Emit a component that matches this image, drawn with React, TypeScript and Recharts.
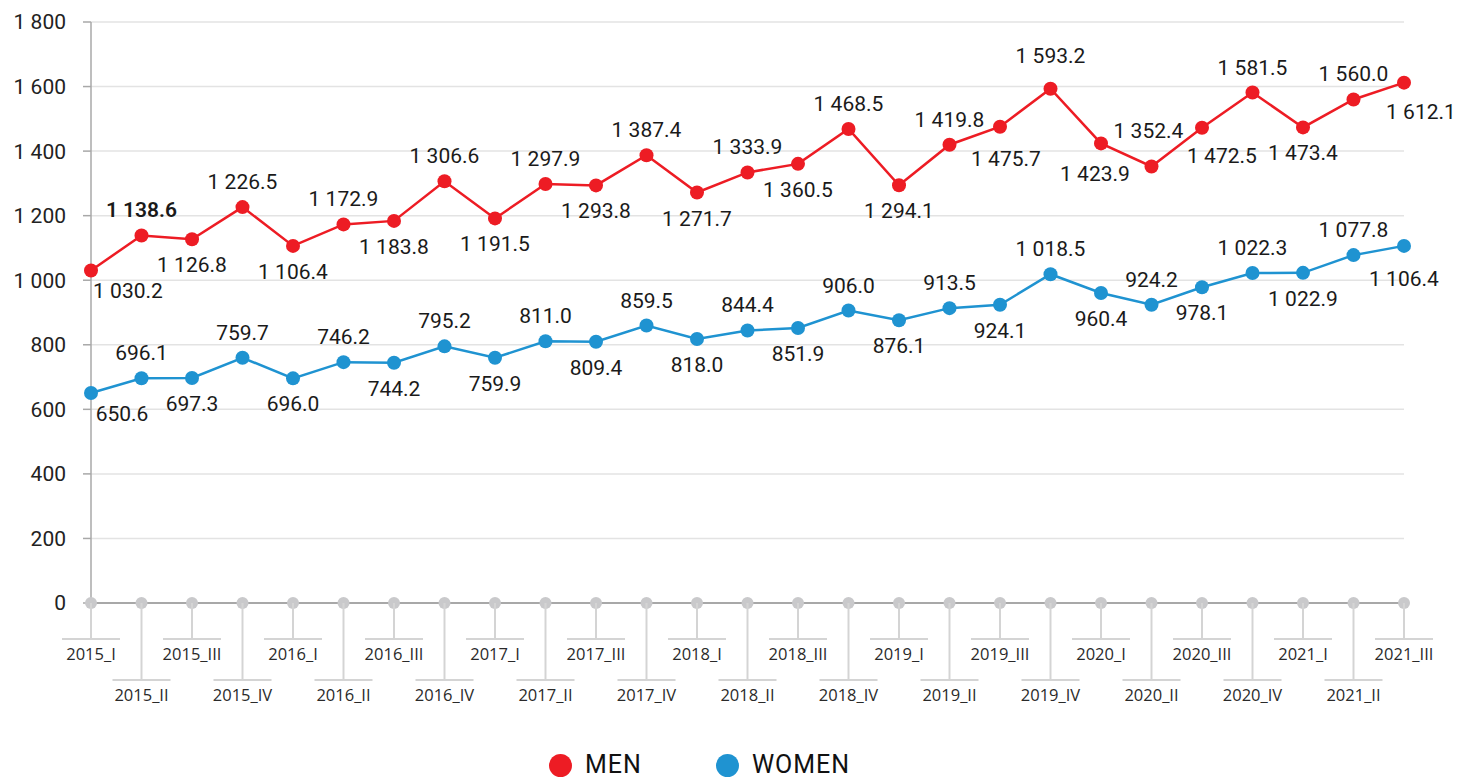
import React from "react";
import {
  LineChart,
  Line,
  XAxis,
  YAxis,
  CartesianGrid,
  Legend,
} from "recharts";

const quarters = [
  "2015_I", "2015_II", "2015_III", "2015_IV",
  "2016_I", "2016_II", "2016_III", "2016_IV",
  "2017_I", "2017_II", "2017_III", "2017_IV",
  "2018_I", "2018_II", "2018_III", "2018_IV",
  "2019_I", "2019_II", "2019_III", "2019_IV",
  "2020_I", "2020_II", "2020_III", "2020_IV",
  "2021_I", "2021_II", "2021_III",
];

const men = [
  1030.2, 1138.6, 1126.8, 1226.5, 1106.4, 1172.9, 1183.8, 1306.6, 1191.5,
  1297.9, 1293.8, 1387.4, 1271.7, 1333.9, 1360.5, 1468.5, 1294.1, 1419.8,
  1475.7, 1593.2, 1423.9, 1352.4, 1472.5, 1581.5, 1473.4, 1560.0, 1612.1,
];

const women = [
  650.6, 696.1, 697.3, 759.7, 696.0, 746.2, 744.2, 795.2, 759.9, 811.0,
  809.4, 859.5, 818.0, 844.4, 851.9, 906.0, 876.1, 913.5, 924.1, 1018.5,
  960.4, 924.2, 978.1, 1022.3, 1022.9, 1077.8, 1106.4,
];

const yTicks = [0, 200, 400, 600, 800, 1000, 1200, 1400, 1600, 1800];

const RED = "#ed1c24";
const BLUE = "#1f93d1";
const LABEL_FONT = "Roboto, 'Noto Sans', sans-serif";

// hand nudges for labels that the original moved (index -> [dx, dy])
const menNudge: Record<number, [number, number]> = {
  0: [37, 28],
  18: [6, 39],
  19: [0, -26],
  20: [-6, 38],
  21: [-3, -28],
  22: [20, 35],
  26: [17, 36],
};
const womenNudge: Record<number, [number, number]> = {
  0: [31, 28],
  26: [0, 40],
};

const data = quarters.map((q, i) => ({ q, men: men[i], women: women[i], zero: 0 }));

function fmt(v: number, digits: number) {
  const [int, dec] = v.toFixed(digits).split(".");
  const spaced = int.replace(/\B(?=(\d{3})+(?!\d))/g, " ");
  return dec ? `${spaced}.${dec}` : spaced;
}

function makeLabel(nudge: Record<number, [number, number]>, boldIdx: number) {
  return (props: any) => {
    const { x, y, index, value } = props;
    if (value == null) return null;
    const above = index % 2 === 1;
    const [dx, dy] = nudge[index] ?? [0, above ? -18 : 33];
    return (
      <text
        key={`l-${index}`}
        x={x + dx}
        y={y + dy}
        textAnchor="middle"
        fontSize={21}
        fontFamily={LABEL_FONT}
        fontWeight={index === boldIdx ? 600 : 400}
        fill="#1a1a1a"
      >
        {fmt(value, 1)}
      </text>
    );
  };
}

const XTick = (props: any) => {
  const { x, y, payload } = props;
  const i = payload.index;
  const long = i % 2 === 1;
  const barY = y + (long ? 77 : 36);
  return (
    <g>
      <line x1={x} y1={y} x2={x} y2={barY} stroke="#d4d4d4" strokeWidth={2} />
      <line x1={x - 29} y1={barY} x2={x + 29} y2={barY} stroke="#d4d4d4" strokeWidth={2} />
      <text
        x={x}
        y={barY + 21}
        textAnchor="middle"
        fontSize={16.5}
        fontFamily="'Open Sans', sans-serif"
        fill="#2a2a2a"
      >
        {payload.value}
      </text>
    </g>
  );
};

const legendItems = [
  { name: "MEN", color: RED },
  { name: "WOMEN", color: BLUE },
];

const LegendContent = () => (
  <div style={{ display: "flex", alignItems: "center", height: 28, paddingLeft: 549 }}>
    {legendItems.map((it, k) => (
      <div key={it.name} style={{ display: "flex", alignItems: "center", marginRight: k === 0 ? 74 : 0 }}>
        <span
          style={{
            width: 23,
            height: 23,
            borderRadius: "50%",
            background: it.color,
            display: "inline-block",
            marginRight: 13,
          }}
        />
        <span
          style={{
            fontFamily: LABEL_FONT,
            fontSize: 25,
            letterSpacing: 1,
            color: "#111",
            lineHeight: "28px",
          }}
        >
          {it.name}
        </span>
      </div>
    ))}
  </div>
);

export default function App() {
  return (
    <div style={{ position: "absolute", left: 0, top: 0, width: 1467, height: 779, background: "#fff" }}>
      <LineChart
        width={1467}
        height={779}
        data={data}
        margin={{ top: 22, right: 63, bottom: 0, left: 0 }}
      >
        <CartesianGrid vertical={false} stroke="#e3e3e3" strokeWidth={1.5} />
        <XAxis
          dataKey="q"
          interval={0}
          axisLine={{ stroke: "#a8a8a8", strokeWidth: 2 }}
          tickLine={false}
          tickSize={0}
          tickMargin={0}
          tick={<XTick />}
          height={148}
        />
        <YAxis
          domain={[0, 1800]}
          ticks={yTicks}
          interval={0}
          width={91}
          axisLine={{ stroke: "#a8a8a8", strokeWidth: 1.5 }}
          tickLine={{ stroke: "#a8a8a8", strokeWidth: 1.5 }}
          tickSize={8}
          tickMargin={17}
          tickFormatter={(v: number) => fmt(v, 0)}
          tick={{ fontSize: 21, fontFamily: LABEL_FONT, fill: "#222" }}
        />
        <Legend verticalAlign="bottom" content={<LegendContent />} />
        <Line
          dataKey="zero"
          stroke="none"
          legendType="none"
          dot={{ r: 6, fill: "#c9c9cb", stroke: "none" }}
          activeDot={false}
          isAnimationActive={false}
        />
        <Line
          dataKey="men"
          name="MEN"
          stroke={RED}
          strokeWidth={2.5}
          dot={{ r: 7, fill: RED, stroke: "none" }}
          activeDot={false}
          label={makeLabel(menNudge, 1)}
          isAnimationActive={false}
        />
        <Line
          dataKey="women"
          name="WOMEN"
          stroke={BLUE}
          strokeWidth={2.5}
          dot={{ r: 7, fill: BLUE, stroke: "none" }}
          activeDot={false}
          label={makeLabel(womenNudge, -1)}
          isAnimationActive={false}
        />
      </LineChart>
    </div>
  );
}
